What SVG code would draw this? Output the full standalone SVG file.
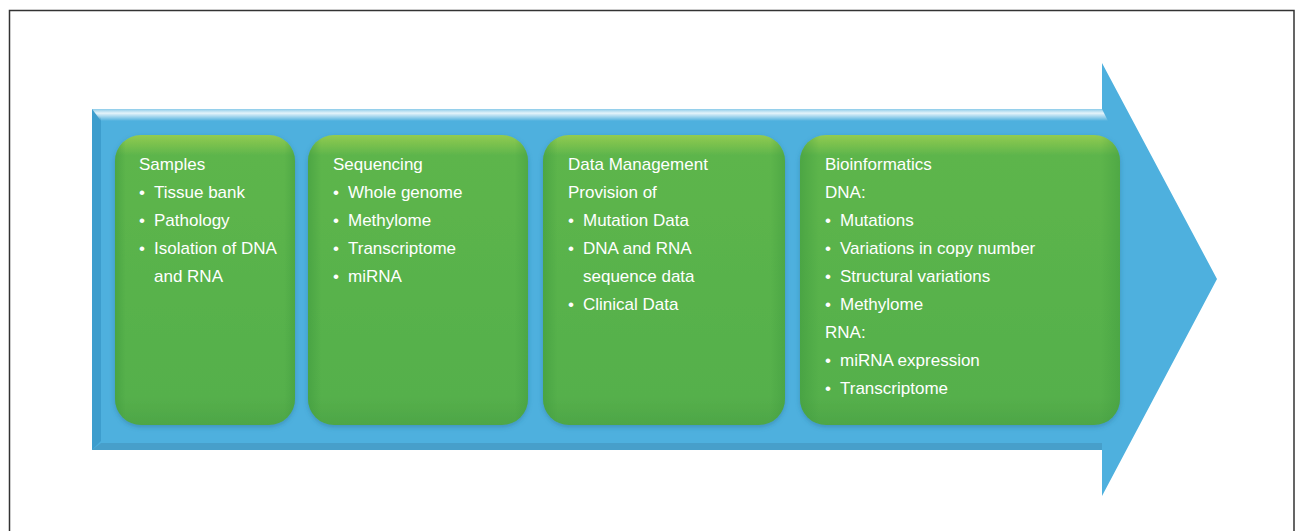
<svg xmlns="http://www.w3.org/2000/svg" width="1295" height="531" viewBox="0 0 1295 531">
  <defs>
    <linearGradient id="topHi" x1="0" y1="0" x2="0" y2="1">
      <stop offset="0" stop-color="#ffffff" stop-opacity="0.35"/>
      <stop offset="0.35" stop-color="#ffffff" stop-opacity="0.85"/>
      <stop offset="1" stop-color="#ffffff" stop-opacity="0"/>
    </linearGradient>
    <linearGradient id="greenFill" x1="0" y1="0" x2="0" y2="1">
      <stop offset="0" stop-color="#92cb50"/>
      <stop offset="0.07" stop-color="#5db54c"/>
      <stop offset="0.9" stop-color="#55b04c"/>
      <stop offset="1" stop-color="#4ea646"/>
    </linearGradient>
    <linearGradient id="greenSide" x1="0" y1="0" x2="1" y2="0">
      <stop offset="0" stop-color="#3f9a3e" stop-opacity="0.55"/>
      <stop offset="0.06" stop-color="#3f9a3e" stop-opacity="0"/>
      <stop offset="0.94" stop-color="#3f9a3e" stop-opacity="0"/>
      <stop offset="1" stop-color="#3f9a3e" stop-opacity="0.45"/>
    </linearGradient>
    <filter id="shadow" x="-10%" y="-10%" width="120%" height="120%">
      <feGaussianBlur in="SourceAlpha" stdDeviation="2.5"/>
      <feOffset dx="0" dy="2" result="b"/>
      <feFlood flood-color="#2a6f8f" flood-opacity="0.45"/>
      <feComposite in2="b" operator="in"/>
      <feMerge><feMergeNode/><feMergeNode in="SourceGraphic"/></feMerge>
    </filter>
  </defs>
  <style>
    .box { fill: url(#greenFill); filter: url(#shadow); }
    .side { fill: url(#greenSide); }
    .t { font-family: "Liberation Sans", Arial, Helvetica, sans-serif; font-size: 17px; fill: #ffffff; }
    .frame { stroke: #333333; stroke-width: 1.5; fill: none; }
  </style>

  <rect width="1295" height="531" fill="#ffffff"/>
  <path class="frame" d="M9.5,531 V10.5 H1294 V531"/>

  <g id="arrow">
    <polygon points="92,109 1102,109 1102,63 1217,279 1102,496 1102,450 92,450" fill="#4eb0de"/>
    <polygon points="92,109 101,118 101,441 92,450" fill="#3d9dcd"/>
    <polygon points="92,109 1102,109 1108,121 101,121" fill="url(#topHi)"/>
    <polygon points="92,450 101,443 1102,443 1102,450" fill="#479fca"/>
  </g>

  <g id="samples">
    <rect class="box" x="115" y="135" width="180" height="290" rx="26"/>
    <rect class="side" x="115" y="135" width="180" height="290" rx="26"/>
    <text class="t" x="139" y="170">Samples</text>
    <text class="t" x="139" y="198">•<tspan x="154">Tissue bank</tspan></text>
    <text class="t" x="139" y="226">•<tspan x="154">Pathology</tspan></text>
    <text class="t" x="139" y="254">•<tspan x="154">Isolation of DNA</tspan></text>
    <text class="t" x="154" y="282">and RNA</text>
  </g>

  <g id="sequencing">
    <rect class="box" x="308" y="135" width="220" height="290" rx="26"/>
    <rect class="side" x="308" y="135" width="220" height="290" rx="26"/>
    <text class="t" x="333" y="170">Sequencing</text>
    <text class="t" x="333" y="198">•<tspan x="348">Whole genome</tspan></text>
    <text class="t" x="333" y="226">•<tspan x="348">Methylome</tspan></text>
    <text class="t" x="333" y="254">•<tspan x="348">Transcriptome</tspan></text>
    <text class="t" x="333" y="282">•<tspan x="348">miRNA</tspan></text>
  </g>

  <g id="data-management">
    <rect class="box" x="543" y="135" width="242" height="290" rx="26"/>
    <rect class="side" x="543" y="135" width="242" height="290" rx="26"/>
    <text class="t" x="568" y="170">Data Management</text>
    <text class="t" x="568" y="198">Provision of</text>
    <text class="t" x="568" y="226">•<tspan x="583">Mutation Data</tspan></text>
    <text class="t" x="568" y="254">•<tspan x="583">DNA and RNA</tspan></text>
    <text class="t" x="583" y="282">sequence data</text>
    <text class="t" x="568" y="310">•<tspan x="583">Clinical Data</tspan></text>
  </g>

  <g id="bioinformatics">
    <rect class="box" x="800" y="135" width="320" height="290" rx="26"/>
    <rect class="side" x="800" y="135" width="320" height="290" rx="26"/>
    <text class="t" x="825" y="170">Bioinformatics</text>
    <text class="t" x="825" y="198">DNA:</text>
    <text class="t" x="825" y="226">•<tspan x="840">Mutations</tspan></text>
    <text class="t" x="825" y="254">•<tspan x="840">Variations in copy number</tspan></text>
    <text class="t" x="825" y="282">•<tspan x="840">Structural variations</tspan></text>
    <text class="t" x="825" y="310">•<tspan x="840">Methylome</tspan></text>
    <text class="t" x="825" y="338">RNA:</text>
    <text class="t" x="825" y="366">•<tspan x="840">miRNA expression</tspan></text>
    <text class="t" x="825" y="394">•<tspan x="840">Transcriptome</tspan></text>
  </g>

  <g id="connectors"></g>
</svg>
